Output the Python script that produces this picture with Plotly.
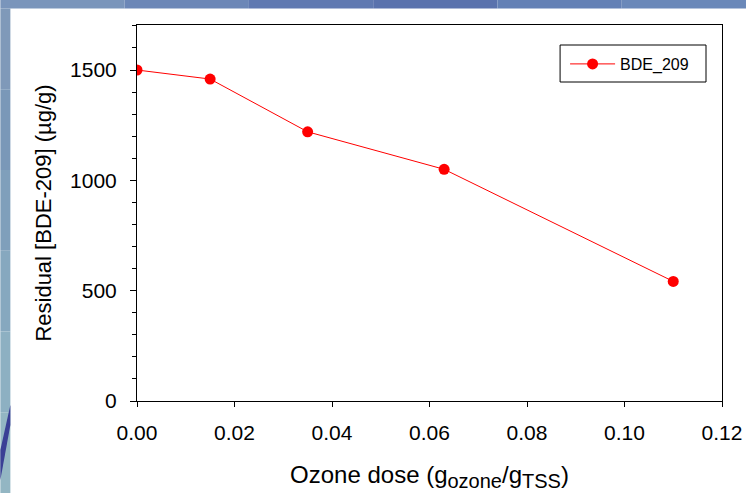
import plotly.graph_objects as go

ozone_dose = [0.0, 0.015, 0.035, 0.063, 0.11]
bde_209 = [1500, 1459, 1220, 1050, 542]
series_name = "BDE_209"
x_ticks = [0.00, 0.02, 0.04, 0.06, 0.08, 0.10, 0.12]
x_tick_text = ["0.00", "0.02", "0.04", "0.06", "0.08", "0.10", "0.12"]
y_ticks = [0, 500, 1000, 1500]

W, H = 746, 493
L, R, T, B = 136.7, 722.0, 25.0, 401.0


def px(x):
    return (x - L) / (R - L)


def py(y):
    return (B - y) / (B - T)


fig = go.Figure()
fig.add_trace(go.Scatter(
    x=ozone_dose, y=bde_209, mode="lines+markers", name=series_name,
    line=dict(color="#ff0000", width=1),
    marker=dict(color="#ff0000", size=11),
))

shapes = []
# top strip gradient
top_cols = ["#7a95bb", "#6c87b7", "#6079b1", "#5a72ad", "#6380b5", "#6a88b9"]
n = len(top_cols)
for i, c in enumerate(top_cols):
    shapes.append(dict(type="rect", xref="paper", yref="paper",
                       x0=px(W * i / n), x1=px(W * (i + 1) / n),
                       y0=py(8.5), y1=py(0), fillcolor=c, line_width=0, layer="below"))
# left strip gradient
left_cols = ["#7f99b9", "#7a98b8", "#7f9fbb", "#86a8bf", "#8db0c2", "#93b6c3"]
n = len(left_cols)
for i, c in enumerate(left_cols):
    shapes.append(dict(type="rect", xref="paper", yref="paper",
                       x0=px(0), x1=px(10),
                       y0=py(8.5 + (H - 8.5) * (i + 1) / n), y1=py(8.5 + (H - 8.5) * i / n),
                       fillcolor=c, line_width=0, layer="below"))
# dark swoosh
path = "M {} {} L {} {} L {} {} L {} {} Z".format(
    px(10), py(405), px(10), py(425), px(0), py(480), px(0), py(450))
shapes.append(dict(type="path", xref="paper", yref="paper", path=path,
                   fillcolor="#3a3f95", line_width=0, layer="below"))
# legend frame
shapes.append(dict(type="rect", xref="paper", yref="paper",
                   x0=px(560), x1=px(706), y0=py(82), y1=py(45),
                   line=dict(color="black", width=1), fillcolor="rgba(0,0,0,0)", layer="above"))

sub = '<sub><span style="font-size:20px">{}</span></sub>'
x_title = "Ozone dose (g" + sub.format("ozone") + "/g" + sub.format("TSS") + ")"

fig.update_layout(
    width=W, height=H,
    margin=dict(l=L, r=W - R, t=T, b=H - B, pad=0, autoexpand=False),
    paper_bgcolor="white", plot_bgcolor="white",
    font=dict(family="Liberation Sans, Arial, sans-serif", color="black", size=21),
    shapes=shapes,
    showlegend=True,
    legend=dict(x=px(565), y=py(47), xanchor="left", yanchor="top",
                borderwidth=0, bgcolor="rgba(0,0,0,0)",
                font=dict(size=16), itemwidth=45, tracegroupgap=0),
    xaxis=dict(range=[0, 0.12], tickvals=x_ticks, ticktext=x_tick_text, automargin=False,
               showgrid=False, zeroline=False, showline=True, linecolor="black",
               linewidth=1, mirror=True, ticks="outside", ticklen=5, tickcolor="black",
               tickfont=dict(size=21), ticklabelstandoff=8,
               title=dict(text=x_title, font=dict(size=24), standoff=22)),
    yaxis=dict(range=[0, 1704], tickvals=y_ticks, automargin=False,
               showgrid=False, zeroline=False, showline=True, linecolor="black",
               linewidth=1, mirror=True, ticks="outside", ticklen=6, tickcolor="black",
               tickfont=dict(size=21), ticklabelstandoff=9,
               minor=dict(dtick=100, ticks="outside", ticklen=4, tickcolor="black", showgrid=False),
               title=dict(text="Residual [BDE-209] (µg/g)", font=dict(size=22), standoff=12)),
)

fig.write_html("out.html", config={"displayModeBar": False},
               post_script="document.body.style.margin='0';")
